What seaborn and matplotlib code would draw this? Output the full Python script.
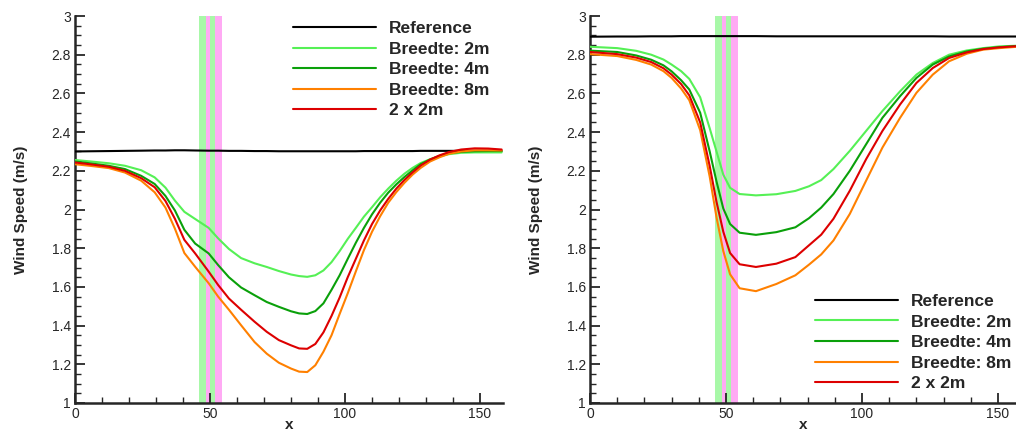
import numpy as np
import pandas as pd
import matplotlib
matplotlib.use("Agg")
import matplotlib.pyplot as plt
from matplotlib.ticker import MultipleLocator, FormatStrFormatter
import seaborn as sns

# ---------------- data ----------------
series_names = ["Reference", "Breedte: 2m", "Breedte: 4m", "Breedte: 8m", "2 x 2m"]
series_colors = ["#000000", "#55f055", "#0aa00a", "#ff8000", "#dd0000"]

# left panel
x_left = [0, 6, 12.5, 18.5, 24.5, 29.5, 33.5, 37, 40.5, 44.5, 49.5, 53, 57, 61.5, 66.5, 71,
          75.5, 80, 83, 86, 89, 92, 95, 98, 101, 104, 107, 110, 113, 116, 119, 122, 125, 128,
          131.5, 135, 138.5, 143, 148, 153, 158]
left_ref = [2.300, 2.301, 2.302, 2.303, 2.304, 2.305, 2.305, 2.306, 2.306, 2.305, 2.304, 2.304,
            2.303, 2.303, 2.302, 2.302, 2.301, 2.301, 2.301, 2.301, 2.301, 2.301, 2.301, 2.301,
            2.301, 2.301, 2.302, 2.302, 2.302, 2.302, 2.302, 2.302, 2.302, 2.303, 2.303, 2.303,
            2.303, 2.303, 2.303, 2.303, 2.303]
left_2m = [2.256, 2.248, 2.239, 2.226, 2.203, 2.166, 2.113, 2.046, 1.988, 1.951, 1.905, 1.851,
           1.796, 1.749, 1.722, 1.703, 1.682, 1.664, 1.656, 1.652, 1.660, 1.685, 1.728, 1.785,
           1.848, 1.905, 1.963, 2.012, 2.063, 2.108, 2.149, 2.185, 2.215, 2.240, 2.260, 2.275,
           2.286, 2.293, 2.295, 2.295, 2.295]
left_4m = [2.248, 2.238, 2.226, 2.209, 2.174, 2.132, 2.070, 1.995, 1.895, 1.824, 1.773, 1.713,
           1.650, 1.597, 1.557, 1.522, 1.497, 1.474, 1.463, 1.460, 1.475, 1.515, 1.585, 1.660,
           1.745, 1.828, 1.905, 1.975, 2.035, 2.087, 2.130, 2.168, 2.202, 2.234, 2.258, 2.277,
           2.291, 2.298, 2.301, 2.302, 2.302]
left_8m = [2.234, 2.225, 2.214, 2.191, 2.149, 2.089, 2.010, 1.901, 1.775, 1.704, 1.619, 1.550,
           1.482, 1.402, 1.315, 1.255, 1.208, 1.178, 1.162, 1.160, 1.195, 1.265, 1.350, 1.460,
           1.567, 1.680, 1.790, 1.885, 1.965, 2.035, 2.090, 2.138, 2.180, 2.215, 2.248, 2.270,
           2.288, 2.300, 2.306, 2.306, 2.305]
left_2x2m = [2.243, 2.233, 2.221, 2.200, 2.162, 2.115, 2.044, 1.952, 1.843, 1.773, 1.679, 1.610,
             1.540, 1.482, 1.420, 1.368, 1.325, 1.298, 1.282, 1.280, 1.305, 1.365, 1.450, 1.545,
             1.650, 1.745, 1.840, 1.925, 1.995, 2.055, 2.108, 2.153, 2.192, 2.227, 2.258, 2.280,
             2.297, 2.310, 2.316, 2.315, 2.310]

# right panel
x_right = [0, 10, 17, 22.5, 27, 30, 33.5, 36.5, 40.5, 44, 46.5, 49, 51.5, 55, 61, 68.5, 75.5,
           80.5, 85, 89.5, 95.5, 101.5, 107.5, 114, 120, 126, 132, 138.5, 144.5, 150.5, 158]
right_ref = [2.893, 2.894, 2.894, 2.895, 2.895, 2.895, 2.896, 2.896, 2.896, 2.896, 2.896, 2.896,
             2.896, 2.896, 2.896, 2.895, 2.895, 2.895, 2.895, 2.895, 2.895, 2.895, 2.895, 2.895,
             2.895, 2.895, 2.894, 2.894, 2.894, 2.894, 2.894]
right_2m = [2.841, 2.834, 2.820, 2.800, 2.775, 2.749, 2.715, 2.675, 2.580, 2.420, 2.300, 2.180,
            2.112, 2.080, 2.073, 2.079, 2.096, 2.120, 2.152, 2.209, 2.303, 2.406, 2.509, 2.611,
            2.697, 2.757, 2.800, 2.822, 2.834, 2.843, 2.847]
right_4m = [2.821, 2.814, 2.796, 2.774, 2.745, 2.714, 2.668, 2.620, 2.500, 2.300, 2.145, 2.005,
            1.925, 1.880, 1.869, 1.883, 1.908, 1.955, 2.010, 2.080, 2.200, 2.337, 2.474, 2.586,
            2.680, 2.749, 2.791, 2.817, 2.831, 2.839, 2.846]
right_8m = [2.803, 2.793, 2.773, 2.749, 2.715, 2.680, 2.625, 2.565, 2.410, 2.170, 1.960, 1.785,
            1.665, 1.593, 1.578, 1.615, 1.660, 1.715, 1.768, 1.840, 1.977, 2.149, 2.320, 2.474,
            2.603, 2.697, 2.766, 2.805, 2.826, 2.834, 2.842]
right_2x2m = [2.814, 2.803, 2.785, 2.762, 2.730, 2.697, 2.648, 2.590, 2.450, 2.225, 2.040, 1.885,
              1.775, 1.717, 1.703, 1.720, 1.754, 1.815, 1.870, 1.952, 2.097, 2.260, 2.406, 2.543,
              2.654, 2.731, 2.783, 2.812, 2.829, 2.838, 2.845]

# shaded strips (x ranges)
band_starts = [46.0, 48.5, 50.0, 52.0]
band_ends = [48.5, 50.0, 52.0, 54.5]
band_colors = ["#a8f8a8", "#ffaaf4", "#a8f8a8", "#ffaaf4"]

x_ticks = [0, 50, 100, 150]
y_ticks = [1, 1.2, 1.4, 1.6, 1.8, 2, 2.2, 2.4, 2.6, 2.8, 3]

# ---------------- plotting ----------------
sns.set_style("ticks")
plt.rcParams["font.family"] = ["Liberation Sans", "DejaVu Sans"]

W, H = 1016, 434
fig = plt.figure(figsize=(W / 100, H / 100), dpi=100)


def make_df(xs, ys_list):
    frames = []
    for name, ys in zip(series_names, ys_list):
        frames.append(pd.DataFrame({"x": xs, "y": ys, "series": name}))
    return pd.concat(frames, ignore_index=True)


df_left = make_df(x_left, [left_ref, left_2m, left_4m, left_8m, left_2x2m])
df_right = make_df(x_right, [right_ref, right_2m, right_4m, right_8m, right_2x2m])

ax1 = fig.add_axes([75 / W, (H - 403) / H, 428 / W, 387 / H])
ax2 = fig.add_axes([590 / W, (H - 403) / H, 426 / W, 387 / H])

panels = [(ax1, df_left, 158.5, (0.509, 0.987), 428),
          (ax2, df_right, 156.6, (0.528, 0.282), 426)]

for ax, df, xmax, legpos, wpx in panels:
    for s, e, c in zip(band_starts, band_ends, band_colors):
        ax.axvspan(s, e, color=c, lw=0, zorder=0)
    for name, col in zip(series_names, series_colors):
        sub = df[df["series"] == name]
        sns.lineplot(data=sub, x="x", y="y", color=col, lw=1.5, label=name, ax=ax,
                     sort=False, zorder=3)
    ax.set_xlim(0, xmax)
    ax.set_ylim(1, 3)
    ax.set_xticks(x_ticks)
    ax.set_yticks(y_ticks)
    ax.yaxis.set_major_formatter(FormatStrFormatter("%g"))
    ax.xaxis.set_minor_locator(MultipleLocator(10))
    ax.yaxis.set_minor_locator(MultipleLocator(0.05))
    ax.tick_params(which="major", direction="in", length=7, width=1.3, labelsize=10, pad=3)
    ax.tick_params(which="minor", direction="in", length=4, width=1.0)
    for sp in ["top", "right"]:
        ax.spines[sp].set_visible(False)
    for sp in ["left", "bottom"]:
        ax.spines[sp].set_linewidth(1.8)
    ax.set_xlabel("x", fontsize=11, fontweight="bold")
    ax.set_ylabel("Wind Speed (m/s)", fontsize=11, fontweight="bold")
    ax.yaxis.set_label_coords(-47 / wpx, 0.5)
    ax.xaxis.set_label_coords(0.5, -15 / 387)
    leg = ax.legend(loc="upper left", bbox_to_anchor=legpos, frameon=False,
                    prop={"weight": "bold", "size": 12.5}, handlelength=4.8,
                    handletextpad=0.75, labelspacing=0.31, borderpad=0, borderaxespad=0)
    for line in leg.get_lines():
        line.set_linewidth(1.5)

fig.savefig("out.png", dpi=100)
